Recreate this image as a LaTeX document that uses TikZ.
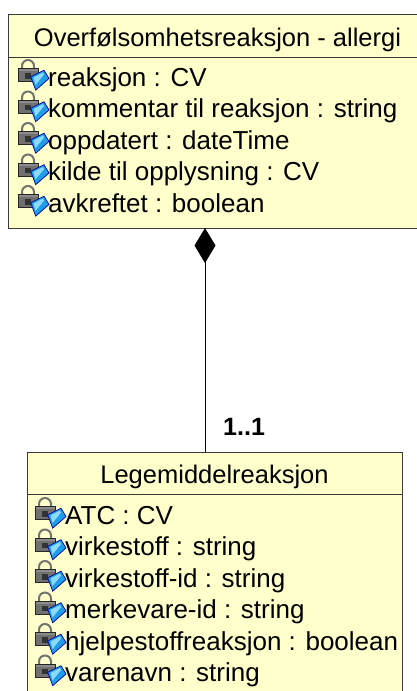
\documentclass[tikz,border=0pt]{standalone}
\usepackage{fontspec}
\setmainfont{Liberation Sans}
\usetikzlibrary{arrows.meta}
\definecolor{umlfill}{HTML}{FFFFCC}
\definecolor{umlline}{HTML}{3A3A3A}
\definecolor{lockgray}{HTML}{707070}
\definecolor{iconblue}{HTML}{1E9EEA}
\tikzset{
  classbox/.style={draw=umlline, fill=umlfill, line width=1pt, anchor=north west, inner sep=0pt},
  sepline/.style={draw=umlline, line width=1pt},
  attr/.style={anchor=base west, inner sep=0pt, font=\fontsize{26}{30}\selectfont},
  titletext/.style={anchor=base, inner sep=0pt, font=\fontsize{25.5}{30}\selectfont},
  multtext/.style={anchor=base west, inner sep=0pt, font=\fontsize{25}{30}\selectfont\bfseries},
  connector/.style={draw=black, line width=1pt},
  attricon/.pic={
    \draw[line width=2pt, draw=black!55] (-26,15) -- (-26,20) arc[start angle=180,end angle=0,radius=6] -- (-14,15);
    \draw[line width=0.7pt, fill=lockgray, draw=black!85] (-30,4.5) rectangle (-10,17.5);
    \fill[black!45] (-29.5,15) rectangle (-10.5,17);
    \fill[black!80] (-23,7.5) rectangle (-17,13);
    \draw[line width=0.7pt, fill=iconblue, draw=blue!60!black] (-17.3,9.2) -- (-4,15.8) -- (1,7.5) -- (-12.3,-4.2) -- cycle;
    \fill[cyan!45] (-14.5,8.5) -- (-5,13.5) -- (-4,11.5) -- (-12.5,1) -- cycle;
  }
}
\begin{document}
\begin{tikzpicture}[x=1pt,y=1pt]
\useasboundingbox (0,0) rectangle (417,-691);
\clip (0,0) rectangle (417,-691);

% top class
\node[classbox, minimum width=420pt, minimum height=214pt] (top) at (8,-14) {};
\draw[sepline] ([yshift=-43pt]top.north west) -- ([yshift=-43pt]top.north east);
\node[titletext] (toptitle) at (217.5,-46) {Overfølsomhetsreaksjon - allergi};
\pic at (48,-86) {attricon};
\node[attr] (t1) at (48,-86) {reaksjon : CV};
\pic at (48,-117.5) {attricon};
\node[attr] (t2) at (48,-117.5) {kommentar til reaksjon : string};
\pic at (48,-149) {attricon};
\node[attr] (t3) at (48,-149) {oppdatert : dateTime};
\pic at (48,-180.5) {attricon};
\node[attr] (t4) at (48,-180.5) {kilde til opplysning : CV};
\pic at (48,-212) {attricon};
\node[attr] (t5) at (48,-212) {avkreftet : boolean};

% bottom class
\node[classbox, minimum width=375pt, minimum height=260pt] (bot) at (27,-452) {};
\draw[sepline] ([yshift=-42pt]bot.north west) -- ([yshift=-42pt]bot.north east);
\node[titletext] (bottitle) at (214.5,-483) {Legemiddelreaksjon};
\pic at (65,-524) {attricon};
\node[attr] (b1) at (65,-524) {ATC : CV};
\pic at (65,-555.5) {attricon};
\node[attr] (b2) at (65,-555.5) {virkestoff : string};
\pic at (65,-587) {attricon};
\node[attr] (b3) at (65,-587) {virkestoff-id : string};
\pic at (65,-618.5) {attricon};
\node[attr] (b4) at (65,-618.5) {merkevare-id : string};
\pic at (65,-650) {attricon};
\node[attr] (b5) at (65,-650) {hjelpestoffreaksjon : boolean};
\pic at (65,-681.5) {attricon};
\node[attr] (b6) at (65,-681.5) {varenavn : string};

% composition
\coordinate (cstart) at (205,-228);
\coordinate (cend) at (205,-452);
\draw[connector, {Diamond[length=35pt,width=21pt]}-] (cstart) -- (cend);
\node[multtext] (mult) at (223,-435) {1..1};
\end{tikzpicture}
\end{document}
